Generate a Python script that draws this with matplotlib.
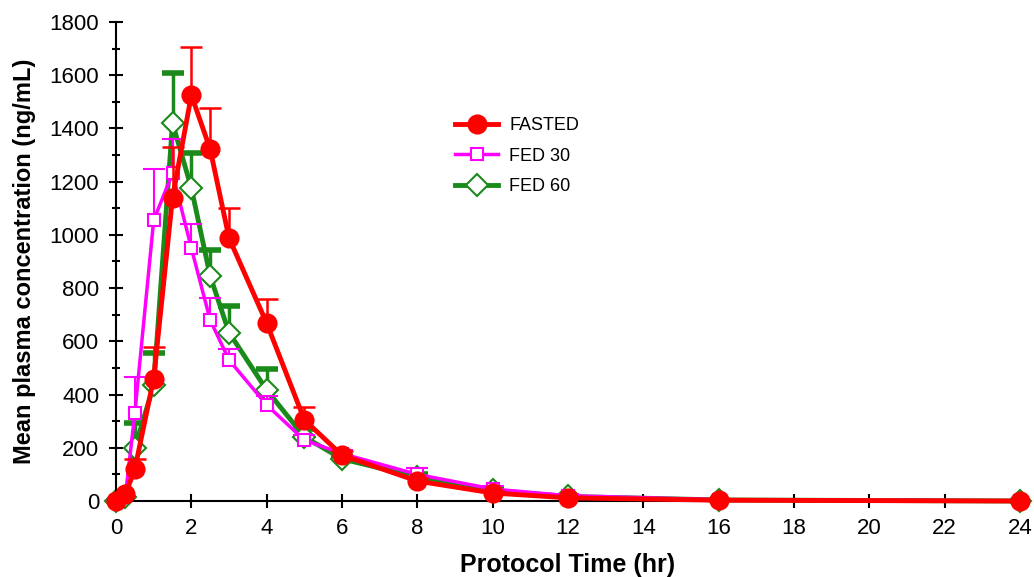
import numpy as np
import matplotlib
matplotlib.use("Agg")
import matplotlib.pyplot as plt
from matplotlib.ticker import MultipleLocator

plt.rcParams['font.family'] = ['Liberation Sans', 'DejaVu Sans']

time = [0, 0.25, 0.5, 1, 1.5, 2, 2.5, 3, 4, 5, 6, 8, 10, 12, 16, 24]

fasted = [0, 25, 120, 460, 1140, 1525, 1322, 988, 668, 305, 172, 75, 30, 12, 3, 0]
fasted_up = [0, 0, 38, 118, 192, 180, 155, 112, 90, 50, 15, 10, 6, 3, 0, 0]

fed30 = [0, 20, 330, 1055, 1232, 950, 680, 530, 361, 229, 178, 100, 45, 20, 5, 0]
fed30_up = [0, 0, 135, 192, 130, 92, 83, 40, 32, 20, 15, 25, 12, 5, 0, 0]

fed60 = [0, 15, 200, 435, 1420, 1176, 845, 633, 417, 241, 158, 90, 40, 17, 4, 0]
fed60_up = [0, 0, 92, 120, 188, 132, 100, 100, 78, 30, 12, 10, 8, 3, 0, 0]

fig = plt.figure(figsize=(10.34, 5.77), dpi=100)
ax = fig.add_axes([0.1122, 0.1317, 0.8743, 0.8302])


def draw(vals, ups, color, lw, marker, ms, filled, elw, capw, label, z):
    t = np.array(time)
    v = np.array(vals)
    u = np.array(ups)
    m = u > 0
    # upward error bars only
    ax.vlines(t[m], v[m], v[m] + u[m], color=color, lw=elw, zorder=z)
    ax.plot(t[m], v[m] + u[m], ls="none", marker="_", ms=16, mew=capw,
            color=color, zorder=z)
    h, = ax.plot(t, v, color=color, lw=lw, marker=marker, ms=ms,
                 mfc=color if filled else "white", mec=color, mew=1.5,
                 label=label, zorder=z + 0.5, clip_on=False)
    return h


# draw order: green under magenta under red
h60 = draw(fed60, fed60_up, "#1a8a1a", 3.5, "D", 11, False, 2.5, 4, "FED 60", 2)
h30 = draw(fed30, fed30_up, "#ff00ff", 2.5, "s", 9, False, 1.5, 1.5, "FED 30", 3)
hf = draw(fasted, fasted_up, "#ff0000", 3.5, "o", 13, True, 1.8, 1.8, "FASTED", 4)

ax.set_xlim(0, 24)
ax.set_ylim(0, 1800)
ax.xaxis.set_major_locator(MultipleLocator(2))
ax.yaxis.set_major_locator(MultipleLocator(200))
ax.yaxis.set_minor_locator(MultipleLocator(100))
ax.spines["top"].set_visible(False)
ax.spines["right"].set_visible(False)
ax.spines["left"].set_linewidth(1.5)
ax.spines["bottom"].set_linewidth(1.5)
ax.tick_params(which="major", direction="inout", length=10, width=1.5,
               labelsize=16, pad=7)
ax.tick_params(which="minor", direction="inout", length=6, width=1.5)

ax.set_xlabel("Protocol Time (hr)", fontsize=18, fontweight="bold", labelpad=10)
ax.set_ylabel("Mean plasma concentration (ng/mL)", fontsize=17, fontweight="bold",
              labelpad=10)

leg = ax.legend(handles=[hf, h30, h60], loc="upper left", bbox_to_anchor=(0.357, 0.835),
                frameon=False, fontsize=13, handlelength=2.4, labelspacing=0.75,
                handletextpad=0.6)

fig.savefig("out.png", dpi=100)
